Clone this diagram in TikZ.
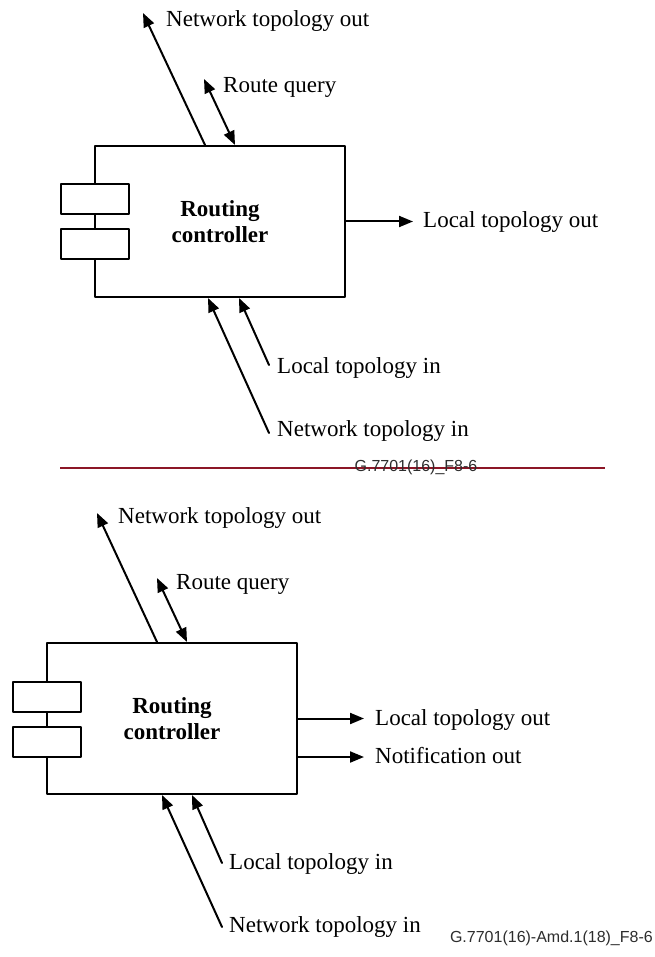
\documentclass[tikz,border=0pt]{standalone}
\usepackage{fontspec}
\setmainfont{Liberation Serif}
\newfontfamily\capfont{Liberation Sans}
\usetikzlibrary{arrows.meta}
\definecolor{rulered}{RGB}{140,22,38}
\definecolor{capgrey}{RGB}{45,45,45}
\tikzset{
	ctrlbox/.style={draw, line width=2pt, minimum width=250pt, minimum height=151pt, inner sep=0pt, align=center, font=\fontsize{23}{26.5}\selectfont\bfseries},
	portbox/.style={draw, fill=white, line width=2pt, minimum width=68pt, minimum height=30pt, inner sep=0pt},
	flow/.style={line width=2pt, -{Triangle[length=14pt,width=11pt]}},
	twoway/.style={line width=2pt, {Triangle[length=14pt,width=11pt]}-{Triangle[length=14pt,width=11pt]}},
	lbl/.style={anchor=base west, inner sep=0pt, font=\fontsize{23}{26}\selectfont},
	figcap/.style={inner sep=0pt, text=capgrey, font=\capfont\fontsize{16}{18}\selectfont}
}
\begin{document}
\begin{tikzpicture}[x=1pt, y=-1pt, line cap=round, line join=round]
	\useasboundingbox (0,0) rectangle (654,957);
	% first version
	\node[ctrlbox] (rc1) at (220,221.5) {Routing\\controller};
	\node[portbox] (pa1) at (95,199) {};
	\node[portbox] (pb1) at (95,244.5) {};
	\coordinate (nto1) at (143,13);
	\coordinate (rq1) at (204,79);
	\coordinate (lto1) at (413,221.5);
	\coordinate (lti1) at (269,365);
	\coordinate (nti1) at (269,433);
	\draw[flow] ([xshift=-15pt]rc1.north) -- (nto1);
	\draw[twoway] (rq1) -- ([xshift=15pt]rc1.north);
	\draw[flow] (rc1.east) -- (lto1);
	\draw[flow] (lti1) -- ([xshift=19pt]rc1.south);
	\draw[flow] (nti1) -- ([xshift=-12pt]rc1.south);
	\node[lbl] (ntol1) at (166,27) {Network topology out};
	\node[lbl] (rql1) at (223,93) {Route query};
	\node[lbl] (ltol1) at (423,228) {Local topology out};
	\node[lbl] (ltil1) at (277,373) {Local topology in};
	\node[lbl] (ntil1) at (277,436) {Network topology in};
	% separator
	\coordinate (rl) at (60,468);
	\coordinate (rr) at (605,468);
	\draw[rulered, line width=2.8pt, line cap=butt] (rl) -- (rr);
	\node[figcap] (cap1) at (416,467) {G.7701(16)\_F8-6};
	% amended version
	\node[ctrlbox] (rc2) at (172,718.5) {Routing\\controller};
	\node[portbox] (pa2) at (47,696.5) {};
	\node[portbox] (pb2) at (47,742) {};
	\coordinate (nto2) at (97,513);
	\coordinate (rq2) at (157,578);
	\coordinate (lto2) at (364,718.5);
	\coordinate (nfo2) at (364,757);
	\coordinate (lti2) at (222,863);
	\coordinate (nti2) at (222,927);
	\draw[flow] ([xshift=-15pt]rc2.north) -- (nto2);
	\draw[twoway] (rq2) -- ([xshift=15pt]rc2.north);
	\draw[flow] (rc2.east) -- (lto2);
	\draw[flow] ([yshift=-38.5pt]rc2.east) -- (nfo2);
	\draw[flow] (lti2) -- ([xshift=20pt]rc2.south);
	\draw[flow] (nti2) -- ([xshift=-10pt]rc2.south);
	\node[lbl] (ntol2) at (118,523) {Network topology out};
	\node[lbl] (rql2) at (176,589) {Route query};
	\node[lbl] (ltol2) at (375,725) {Local topology out};
	\node[lbl] (nfol2) at (375,763) {Notification out};
	\node[lbl] (ltil2) at (229,869) {Local topology in};
	\node[lbl] (ntil2) at (229,932) {Network topology in};
	\node[figcap, anchor=east] (cap2) at (653,938) {G.7701(16)-Amd.1(18)\_F8-6};
\end{tikzpicture}
\end{document}
